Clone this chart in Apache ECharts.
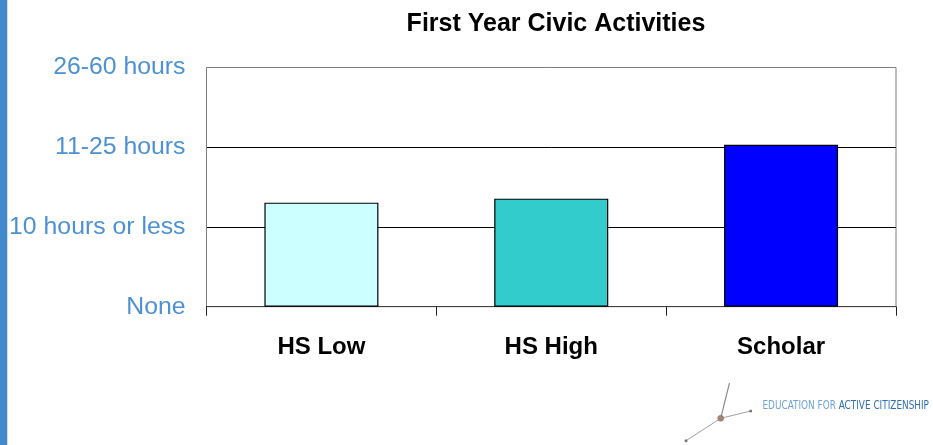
<!DOCTYPE html>
<html>
<head>
<meta charset="utf-8">
<script src="https://cdn.jsdelivr.net/npm/echarts@6/dist/echarts.min.js"></script>
<style>
html,body{margin:0;padding:0;background:#fff;}
#chart{width:933px;height:445px;}
</style>
</head>
<body>
<div id="chart"></div>
<script>
var title = 'First Year Civic Activities';
var categories = ['HS Low', 'HS High', 'Scholar'];
var values = [1.305, 1.355, 2.03];
var barColors = ['#CCFFFF', '#33CCCC', '#0000FF'];
var yTickLabels = ['None', '10 hours or less', '11-25 hours', '26-60 hours'];

var chart = echarts.init(document.getElementById('chart'), null, {renderer: 'canvas'});
var font = '"Liberation Sans", Arial, sans-serif';
var narrow = '"Liberation Sans Narrow", "DejaVu Sans Condensed", "Liberation Sans", sans-serif';

chart.setOption({
  animation: false,
  backgroundColor: '#ffffff',
  title: {
    text: title,
    left: 551,
    textAlign: 'center',
    top: 7,
    textStyle: {fontFamily: font, fontSize: 25, fontWeight: 'bold', color: '#000'}
  },
  grid: {
    left: 206.5, right: 37, top: 67.5, bottom: 138.3,
    show: true, borderColor: '#808080', borderWidth: 1, backgroundColor: '#fff',
    containLabel: false
  },
  xAxis: {
    type: 'category',
    data: categories,
    axisLine: {show: true, lineStyle: {color: '#404040', width: 1}},
    axisTick: {show: true, alignWithLabel: false, length: 9, inside: false, lineStyle: {color: '#202020'}},
    axisLabel: {margin: 29, fontFamily: font, fontSize: 24, fontWeight: 'bold', color: '#000'},
    splitLine: {show: false}
  },
  yAxis: {
    type: 'value',
    min: 0, max: 3, interval: 1,
    axisLine: {show: true, lineStyle: {color: '#808080', width: 1}},
    axisTick: {show: false},
    axisLabel: {
      margin: 21, fontFamily: font, fontSize: 24.8, color: '#4C91D1',
      formatter: function (v) { return yTickLabels[Math.round(v)]; }
    },
    splitLine: {show: true, lineStyle: {color: ['#000', '#000', '#000', '#808080'], width: 1}}
  },
  series: [{
    type: 'bar',
    data: values.map(function (v, i) {
      return {value: v, itemStyle: {color: barColors[i]}};
    }),
    barWidth: '49.6%',
    itemStyle: {borderColor: '#000', borderWidth: 1.2}
  }],
  graphic: [
    {type: 'rect', shape: {x: 0, y: 0, width: 7, height: 445}, style: {fill: '#4189CB'}, silent: true},
    {type: 'rect', shape: {x: 7, y: 0, width: 1, height: 445}, style: {fill: '#C9DCF0'}, silent: true},
    {type: 'line', shape: {x1: 729.5, y1: 383, x2: 720.7, y2: 418.3}, style: {stroke: '#8a8a8a', lineWidth: 1.2}, silent: true},
    {type: 'line', shape: {x1: 720.7, y1: 418.3, x2: 750.7, y2: 411}, style: {stroke: '#a0a0a0', lineWidth: 1}, silent: true},
    {type: 'line', shape: {x1: 720.7, y1: 418.3, x2: 686, y2: 440.7}, style: {stroke: '#a0a0a0', lineWidth: 1}, silent: true},
    {type: 'circle', shape: {cx: 720.7, cy: 418.3, r: 3}, style: {fill: '#a08575', stroke: '#8a7060', lineWidth: 0.5}, silent: true},
    {type: 'circle', shape: {cx: 750.7, cy: 411, r: 1.5}, style: {fill: '#777'}, silent: true},
    {type: 'circle', shape: {cx: 686, cy: 440.7, r: 1.5}, style: {fill: '#777'}, silent: true},
    {
      type: 'text', x: 762.5, y: 412, scaleX: 0.86, silent: true,
      style: {
        text: '{a|EDUCATION FOR }{b|ACTIVE CITIZENSHIP}',
        verticalAlign: 'bottom',
        rich: {
          a: {fontFamily: narrow, fontSize: 11.5, fill: '#6FA3D6'},
          b: {fontFamily: narrow, fontSize: 11.5, fill: '#2F70B5'}
        }
      }
    }
  ]
});
</script>
</body>
</html>
